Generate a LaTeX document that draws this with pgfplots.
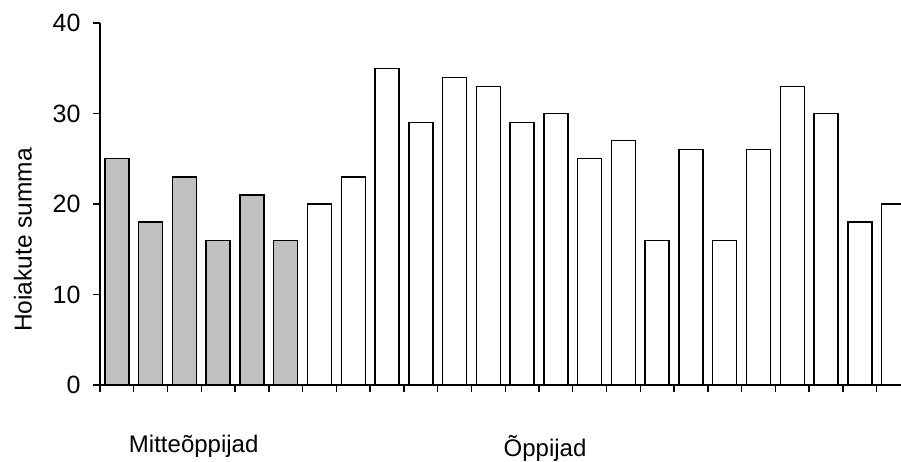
\documentclass[border=0pt]{standalone}
\usepackage{fontspec}
\setmainfont{Liberation Sans}
\usepackage{pgfplots}
\pgfplotsset{compat=1.18}
\definecolor{barsgray}{RGB}{192,192,192}
\begin{document}
\begin{tikzpicture}[x=1pt,y=1pt]
\useasboundingbox (0,0) rectangle (901,461);
\begin{axis}[
  at={(100pt,76pt)}, anchor=south west,
  scale only axis, width=801pt, height=362pt,
  xmin=-0.5, xmax=23.22, ymin=0, ymax=40,
  axis x line=bottom, axis y line=left,
  axis line style={-, line width=1.6pt},
  ytick={0,10,20,30,40},
  xtick={-0.5,0.5,...,22.5}, xticklabels={},
  tick align=outside, major tick length=7pt,
  tick style={line width=1.4pt, black},
  /pgf/number format/assume math mode=true,
  tick label style={font=\fontsize{25}{29}\selectfont},
  yticklabel style={xshift=-9pt},
  clip=true,
]
\addplot[ybar, bar width=24pt, bar shift=0pt, fill=barsgray, draw=black, line width=1.4pt]
  coordinates {(0,25) (1,18) (2,23) (3,16) (4,21) (5,16)};
\addplot[ybar, bar width=24pt, bar shift=0pt, fill=white, draw=black, line width=1.4pt]
  coordinates {(6,20) (7,23) (8,35) (9,29) (10,34) (11,33) (12,29) (13,30) (14,25) (15,27) (16,16) (17,26) (18,16) (19,26) (20,33) (21,30) (22,18) (23,20)};
\end{axis}
\node[anchor=base, font=\fontsize{24}{28}\selectfont] at (193.7,9) {Mitteõppijad};
\node[anchor=base, font=\fontsize{24}{28}\selectfont] at (545,5) {Õppijad};
\node[anchor=base, rotate=90, font=\fontsize{24.5}{28}\selectfont] at (31.7,221) {Hoiakute summa};
\end{tikzpicture}
\end{document}
